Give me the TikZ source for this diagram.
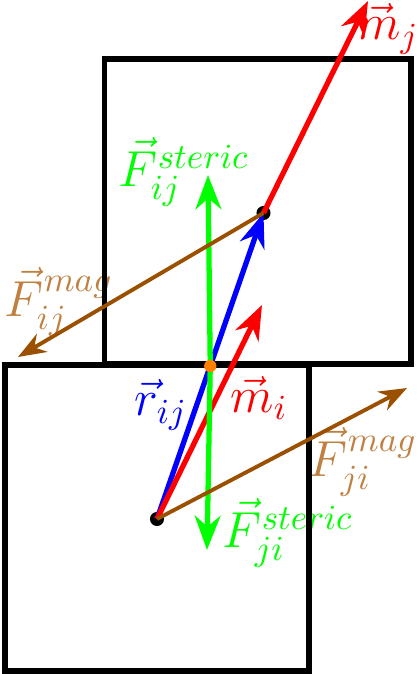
\documentclass[tikz,border=0pt]{standalone}
\usepackage{amsmath,amssymb}
\usepackage{xcolor}
\usetikzlibrary{arrows.meta,calc,positioning}
\definecolor{magbrown}{RGB}{155,80,0}
\definecolor{maglabel}{RGB}{191,128,64}
\definecolor{midorange}{RGB}{255,128,0}

\begin{document}
\begin{tikzpicture}[x=0.01cm, y=-0.01cm]
		\tikzstyle{every node}=[font=\Large]
		\tikzstyle{cell}=[line width=1.5pt]
		\tikzstyle{vec}=[line width=1.5pt, -{Stealth}]
		\tikzstyle{magvec}=[line width=1.1pt, -{Stealth}, magbrown]
		\useasboundingbox (0,0) rectangle (417,674);
		\coordinate (pi) at (157,519);
		\coordinate (pj) at (263.5,213);
		\coordinate (pm) at ($(pi)!0.5!(pj)$);
		\coordinate (mjtip) at (368,1);
		\coordinate (mitip) at (262,305);
		\coordinate (sijtip) at (208,175);
		\coordinate (sjitip) at (207,550);
		\coordinate (fijtip) at (18,357);
		\coordinate (fjitip) at (407,388);
		\node [red] (lmj) at (388,29) {$\vec{m}_j$};
		\node [green] (lsij) at (184,172) {$\vec{F}_{ij}^{steric}$};
		\node [maglabel] (lfij) at (59,302) {$\vec{F}_{ij}^{mag}$};
		\node [blue] (lrij) at (161,405) {$\vec{r}_{ij}$};
		\node [red] (lmi) at (259,398) {$\vec{m}_i$};
		\node [maglabel] (lfji) at (363,462) {$\vec{F}_{ji}^{mag}$};
		\node [green] (lsji) at (288,533) {$\vec{F}_{ji}^{steric}$};
		\draw [cell] (5,365) rectangle (309,671);
		\draw [cell] (104.5,59) rectangle (411,364);
		\fill (pi) circle [radius=2pt];
		\fill (pj) circle [radius=2pt];
		\draw [vec, blue] (pi) -- (pj);
		\draw [vec, red] (pi) -- (mitip);
		\draw [vec, red] (pj) -- (mjtip);
		\draw [vec, green] (pm) -- (sijtip);
		\draw [vec, green] (pm) -- (sjitip);
		\draw [magvec] (pj) -- (fijtip);
		\draw [magvec] (pi) -- (fjitip);
		\fill [midorange] (pm) circle [radius=1.75pt];
	\end{tikzpicture}
\end{document}
